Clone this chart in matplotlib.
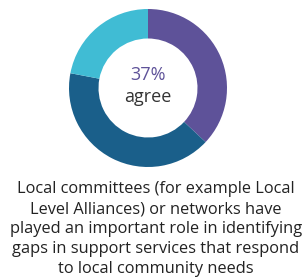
import matplotlib
matplotlib.use("Agg")
import matplotlib.pyplot as plt

# Share of responses (agree / other / unsure)
labels = ["Agree", "Disagree", "Don't know"]
values = [37, 41, 22]
colors = ["#5e5299", "#1a5f8a", "#40bcd4"]

headline = "37%"
sub = "agree"
caption = ("Local committees (for example Local\n"
           "Level Alliances) or networks have\n"
           "played an important role in identifying\n"
           "gaps in support services that respond\n"
           "to local community needs")

W, H = 303, 277
fig = plt.figure(figsize=(W / 100, H / 100), dpi=100)

cx, cy, half = 148, 88, 80
ax = fig.add_axes([(cx - half) / W, (H - cy - half) / H, 2 * half / W, 2 * half / H])
ax.pie(values, colors=colors, startangle=90, counterclock=False,
       radius=79 / 80, wedgeprops=dict(width=29.5 / 80, linewidth=0))
ax.set_xlim(-1, 1)
ax.set_ylim(-1, 1)
ax.set_aspect("equal")
ax.axis("off")

fig.text(cx / W, 1 - 75 / H, headline, ha="center", va="center",
         fontsize=13, color="#5e5299", family="Open Sans")
fig.text(cx / W, 1 - 97 / H, sub, ha="center", va="center",
         fontsize=13, color="#333333", family="Open Sans")

fig.text(156 / W, 1 - 229 / H, caption, ha="center", va="center",
         fontsize=11.8, color="#222222", family="Open Sans", linespacing=1.33)

fig.savefig("out.png", dpi=100)
